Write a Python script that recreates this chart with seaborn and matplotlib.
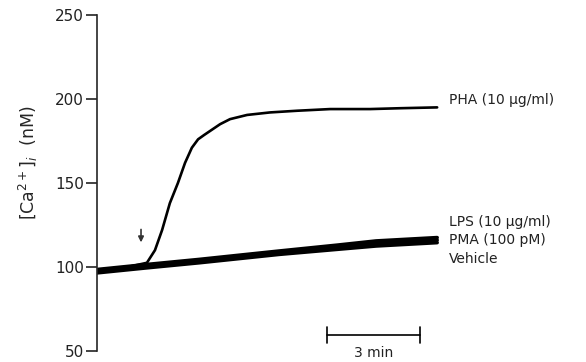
"""
Intracellular calcium traces after stimulation (PHA, LPS, PMA, vehicle)
"""
import pandas as pd
import matplotlib
matplotlib.use("Agg")
import matplotlib.pyplot as plt
import seaborn as sns

# time in minutes, [Ca2+]i in nM
pha_time = [0.0, 0.74, 1.61, 1.87, 2.10, 2.35, 2.61, 2.84, 3.06, 3.26, 3.45, 3.65, 3.97,
            4.29, 4.84, 5.58, 6.45, 7.52, 8.81, 9.77, 10.97]
pha_conc = [97.5, 99.0, 102.5, 110.0, 122.0, 138.0, 150.0, 162.0, 171.0, 176.0, 178.5, 181.0, 185.0,
            188.0, 190.5, 192.0, 193.0, 194.0, 194.0, 194.5, 195.0]

base_time = [0.0, 1.61, 3.29, 5.87, 7.74, 9.0, 10.97]
lps_conc = [98.5, 101.5, 104.5, 109.5, 113.0, 115.5, 117.5]
pma_conc = [97.5, 100.5, 103.5, 108.5, 112.0, 114.0, 116.0]
vehicle_conc = [96.5, 99.5, 102.5, 107.5, 110.5, 112.5, 114.5]

trace_labels = ["PHA (10 μg/ml)", "LPS (10 μg/ml)", "PMA (100 pM)", "Vehicle"]
label_levels = [199.5, 127.0, 116.0, 105.0]
y_ticks = [50, 100, 150, 200, 250]

arrow_time = 1.42
scale_start, scale_minutes = 7.42, 3


def build_frame():
    """ long-form frame for seaborn """
    frames = [pd.DataFrame({"t": pha_time, "ca": pha_conc, "trace": trace_labels[0]})]
    for name, conc in zip(trace_labels[1:], [lps_conc, pma_conc, vehicle_conc]):
        frames.append(pd.DataFrame({"t": base_time, "ca": conc, "trace": name}))
    return pd.concat(frames, ignore_index=True)


sns.set_style("ticks")
plt.rcParams["font.family"] = ["DejaVu Sans"]

fig = plt.figure(figsize=(5.86, 3.62), dpi=100)
ax = fig.add_axes([0.1655, 0.0304, 0.8345, 0.9282])

data = build_frame()
sns.lineplot(data=data[data.trace == trace_labels[0]], x="t", y="ca", color="black",
             linewidth=1.9, ax=ax, legend=False, estimator=None)
sns.lineplot(data=data[data.trace != trace_labels[0]], x="t", y="ca", units="trace",
             color="black", linewidth=2.6, ax=ax, legend=False, estimator=None)

ax.set_xlim(0, 15.77)
ax.set_ylim(50, 250)
ax.set_yticks(y_ticks)
ax.set_xticks([])
ax.set_xlabel("")
ax.set_ylabel("[Ca$^{2+}$]$_i$  (nM)", fontsize=12.5)
ax.yaxis.set_label_coords(-0.117, 0.56)
ax.tick_params(axis="y", direction="out", length=8, width=1.2, pad=1.5, labelsize=11,
               colors="#222222")
for side in ["top", "right", "bottom"]:
    ax.spines[side].set_visible(False)
ax.spines["left"].set_linewidth(1.2)

for name, level in zip(trace_labels, label_levels):
    ax.text(11.35, level, name, fontsize=10, va="center", ha="left", color="#222222")

# stimulus arrow
ax.annotate("", xy=(arrow_time, 113), xytext=(arrow_time, 124),
            arrowprops=dict(arrowstyle="-|>", color="#333333", lw=1.2, mutation_scale=8))

# time scale bar
bar_y = 59.5
ax.plot([scale_start, scale_start + scale_minutes], [bar_y, bar_y], color="black", lw=1.2)
for edge in [scale_start, scale_start + scale_minutes]:
    ax.plot([edge, edge], [bar_y - 4.5, bar_y + 4.5], color="black", lw=1.2)
ax.text(scale_start + scale_minutes / 2, 48.6, "3 min", fontsize=10, ha="center",
        va="center", clip_on=False, color="#222222")

fig.savefig("out.png", dpi=100)
